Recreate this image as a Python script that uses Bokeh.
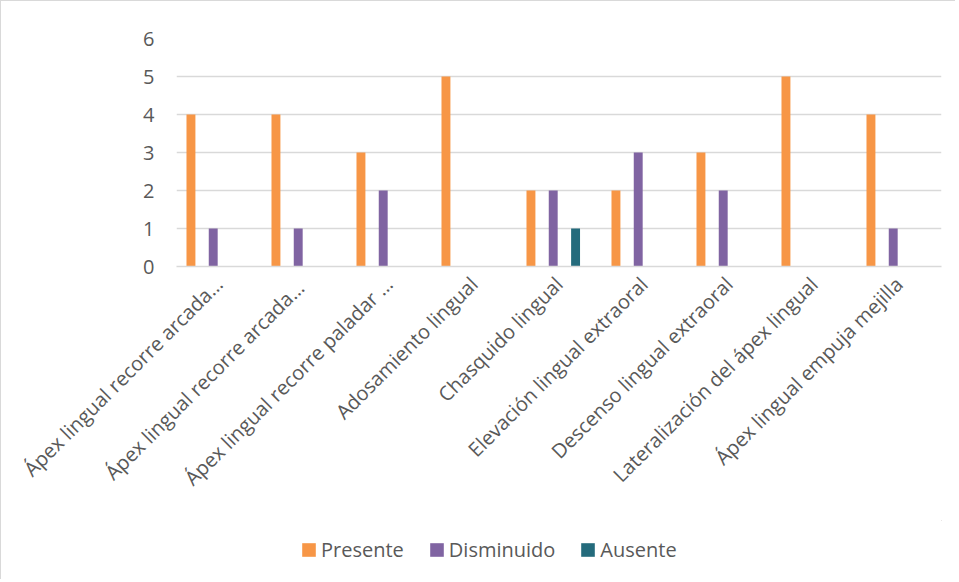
from bokeh.plotting import figure
from bokeh.models import ColumnDataSource, FactorRange, Legend, LegendItem, Range1d, FixedTicker
from bokeh.layouts import column
from bokeh.transform import dodge
from bokeh.embed import file_html
from bokeh.resources import INLINE

categories = [
    "Ápex lingual recorre arcada…",
    "Ápex lingual recorre arcada… ",
    "Ápex lingual recorre paladar …",
    "Adosamiento lingual",
    "Chasquido lingual",
    "Elevación lingual extraoral",
    "Descenso lingual extraoral",
    "Lateralización del ápex lingual",
    "Ápex lingual empuja mejilla",
]
presente = [4, 4, 3, 5, 2, 2, 3, 5, 4]
disminuido = [1, 1, 2, 0, 2, 3, 2, 0, 1]
ausente = [0, 0, 0, 0, 1, 0, 0, 0, 0]
series_names = ["Presente", "Disminuido", "Ausente"]
colors = ["#F79646", "#8064A2", "#246B7C"]
y_ticks = [0, 1, 2, 3, 4, 5, 6]

FONT = "Open Sans"
TXT = "#595959"

src = ColumnDataSource(dict(cat=categories, Presente=presente,
                            Disminuido=disminuido, Ausente=ausente))

p = figure(x_range=FactorRange(*categories, range_padding=0),
           y_range=Range1d(0, 6),
           width=954, height=519,
           output_backend="svg", toolbar_location=None,
           min_border_left=175, min_border_right=14, min_border_top=37,
           min_border_bottom=254)
p.outline_line_color = None

offsets = [-0.33, -0.068, 0.195]
for name, col, off in zip(series_names, colors, offsets):
    p.vbar(x=dodge("cat", off, range=p.x_range), top=name, width=0.105,
           source=src, fill_color=col, line_color=None)

p.yaxis.ticker = FixedTicker(ticks=y_ticks)
p.yaxis.axis_line_color = None
p.yaxis.major_tick_line_color = None
p.yaxis.minor_tick_line_color = None
p.yaxis.major_label_standoff = 16
p.yaxis.major_label_text_font = FONT
p.yaxis.major_label_text_font_size = "20px"
p.yaxis.major_label_text_color = TXT

p.xaxis.axis_line_color = "#d9d9d9"
p.xaxis.axis_line_width = 1.5
p.xaxis.major_tick_line_color = None
p.xaxis.minor_tick_line_color = None
p.xaxis.major_label_orientation = 0.785398
p.xaxis.major_label_standoff = 8
p.xaxis.major_label_text_font = FONT
p.xaxis.major_label_text_font_size = "20px"
p.xaxis.major_label_text_color = TXT

p.xgrid.grid_line_color = None
p.ygrid.grid_line_color = "#d9d9d9"
p.ygrid.grid_line_width = 1.5

# legend strip below the chart (swatch proxies lie outside its visible range)
lg = figure(width=954, height=59, x_range=Range1d(0, 1), y_range=Range1d(0, 1),
            x_axis_type=None, y_axis_type=None, output_backend="svg",
            toolbar_location=None, min_border=0)
lg.outline_line_color = None
lg.xgrid.grid_line_color = None
lg.ygrid.grid_line_color = None
proxies = []
for name, col in zip(series_names, colors):
    proxies.append(lg.vbar(x=[5], bottom=[5], top=[6], width=0.1,
                           fill_color=col, line_color=None))

legend = Legend(items=[LegendItem(label=n, renderers=[r]) for n, r in zip(series_names, proxies)],
                orientation="horizontal", location=(124, 16))
legend.label_text_font = FONT
legend.label_text_font_size = "20px"
legend.label_text_color = TXT
legend.glyph_width = 17
legend.glyph_height = 17
legend.label_standoff = 4
legend.spacing = 24
legend.padding = 6
legend.margin = 0
legend.border_line_color = None
legend.background_fill_alpha = 0
lg.add_layout(legend, "center")

page = column(p, lg, spacing=0)
page.styles = {"border-left": "1px solid #d9d9d9", "border-top": "1px solid #d9d9d9"}

open("out.html", "w").write(file_html(page, INLINE))
